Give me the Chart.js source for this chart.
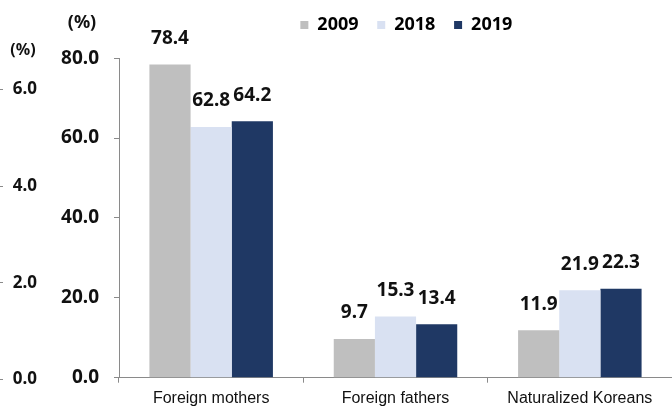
<!DOCTYPE html>
<html>
<head>
<meta charset="utf-8">
<script src="https://cdn.jsdelivr.net/npm/chart.js@4/dist/chart.umd.min.js"></script>
<style>
  html, body { margin: 0; padding: 0; background: #ffffff; }
  #wrap { width: 672px; height: 407px; position: relative; }
</style>
</head>
<body>
<div id="wrap"><canvas id="c" width="672" height="407"></canvas></div>
<script>
const categories = ['Foreign mothers', 'Foreign fathers', 'Naturalized Koreans'];
const years = ['2009', '2018', '2019'];
const values2009 = [78.4, 9.7, 11.9];
const values2018 = [62.8, 15.3, 21.9];
const values2019 = [64.2, 13.4, 22.3];
const yTicks = [0, 20, 40, 60, 80];
const leftTicks = [0, 2, 4, 6];

const colors = ['#bfbfbf', '#d9e1f2', '#1f3864'];
const BOLD = '"Noto Sans", "DejaVu Sans", sans-serif';

const labelPlugin = {
  id: 'valueLabels',
  afterDatasetsDraw(chart) {
    const ctx = chart.ctx;
    ctx.save();
    ctx.font = 'bold 19px ' + BOLD;
    ctx.fillStyle = '#111111';
    ctx.textAlign = 'center';
    ctx.textBaseline = 'middle';
    chart.data.datasets.forEach((ds, di) => {
      const meta = chart.getDatasetMeta(di);
      meta.data.forEach((bar, i) => {
        ctx.fillText(ds.data[i].toFixed(1), bar.x, bar.y - 26);
      });
    });
    const y = chart.scales.y, y2 = chart.scales.y2;
    ctx.font = 'bold 18px ' + BOLD;
    ctx.fillText('(%)', y.left + 37, 23);
    ctx.font = 'bold 16px ' + BOLD;
    ctx.fillText('(%)', y2.left + 20, 50);
    ctx.restore();
  }
};

new Chart(document.getElementById('c'), {
  type: 'bar',
  data: {
    labels: categories,
    datasets: [
      { label: years[0], data: values2009, backgroundColor: colors[0] },
      { label: years[1], data: values2018, backgroundColor: colors[1] },
      { label: years[2], data: values2019, backgroundColor: colors[2] }
    ]
  },
  plugins: [labelPlugin],
  options: {
    responsive: false,
    animation: false,
    layout: { padding: { top: 2, right: 0, bottom: 0, left: 0 } },
    datasets: { bar: { categoryPercentage: 0.67, barPercentage: 1.0, borderWidth: 0 } },
    plugins: {
      tooltip: { enabled: false },
      title: {
        display: true,
        text: ' ',
        position: 'top',
        weight: 500,
        fullSize: false,
        font: { size: 1 },
        padding: { top: 13, bottom: 0 }
      },
      legend: {
        position: 'top',
        fullSize: false,
        labels: {
          boxWidth: 8,
          boxHeight: 8,
          padding: 14,
          color: '#111111',
          font: { family: BOLD, size: 18, weight: 'bold' },
          generateLabels(chart) {
            const items = [{
              text: '', fillStyle: 'rgba(0,0,0,0)', strokeStyle: 'rgba(0,0,0,0)',
              lineWidth: 0, hidden: false, datasetIndex: -1
            }];
            chart.data.datasets.forEach((ds, i) => items.push({
              text: ds.label + (i < 2 ? ' ' : '  '),
              fillStyle: ds.backgroundColor,
              strokeStyle: ds.backgroundColor,
              lineWidth: 0,
              hidden: false,
              datasetIndex: i
            }));
            return items;
          }
        },
        onClick() {}
      }
    },
    scales: {
      x: {
        grid: { drawOnChartArea: false, tickLength: 5, color: '#8a8a8a', offset: true },
        border: { color: '#8a8a8a', width: 1 },
        ticks: {
          color: '#111111',
          padding: 6,
          font: { family: '"Liberation Sans", Arial, sans-serif', size: 16 }
        },
        afterFit(s) { s.height = 29.3; }
      },
      y: {
        position: 'left',
        weight: 0,
        min: 0, max: 80,
        afterBuildTicks(s) { s.ticks = yTicks.map(v => ({ value: v })); },
        grid: { drawOnChartArea: false, tickLength: 5, color: '#8a8a8a' },
        border: { color: '#8a8a8a', width: 1 },
        ticks: {
          color: '#111111',
          padding: 15,
          font: { family: BOLD, size: 19, weight: 'bold' },
          callback: v => Number(v).toFixed(1)
        },
        afterFit(s) { s.width = 74; }
      },
      y2: {
        position: 'left',
        weight: 1,
        min: 0.037, max: 6.646,
        afterBuildTicks(s) { s.ticks = leftTicks.map(v => ({ value: v })); },
        grid: { display: false, drawTicks: false },
        border: { display: false },
        ticks: {
          color: '#111111',
          padding: 8,
          font: { family: BOLD, size: 17, weight: 'bold' },
          callback: v => Number(v).toFixed(1)
        },
        afterFit(s) { s.width = 42; }
      },
      y3: {
        position: 'left',
        weight: 2,
        min: 0.037, max: 6.646,
        afterBuildTicks(s) { s.ticks = leftTicks.map(v => ({ value: v })); },
        grid: { display: true, drawOnChartArea: false, drawTicks: true, tickLength: 3, color: '#8a8a8a' },
        border: { display: false },
        ticks: { display: false },
        afterFit(s) { s.width = 3; }
      }
    }
  }
});
</script>
</body>
</html>
